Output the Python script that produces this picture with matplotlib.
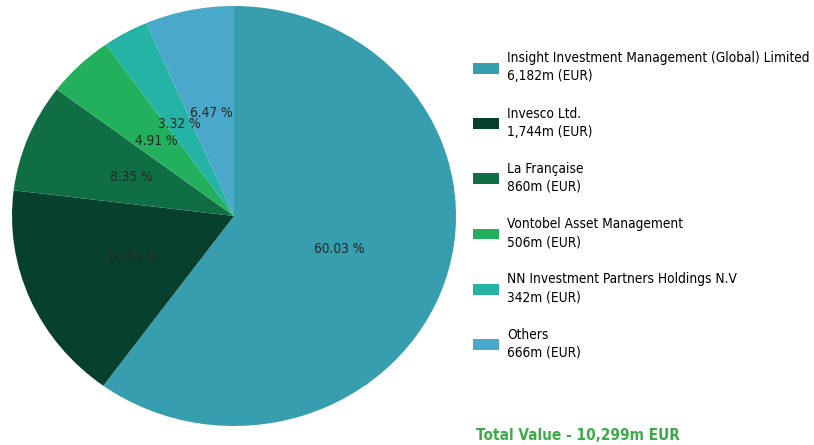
import matplotlib
matplotlib.use("Agg")
import matplotlib.pyplot as plt
from matplotlib.patches import Patch

# data
managers = ["Insight Investment Management (Global) Limited", "Invesco Ltd.",
            "La Française", "Vontobel Asset Management",
            "NN Investment Partners Holdings N.V", "Others"]
values_m = [6182, 1744, 860, 506, 342, 666]
shares = [60.03, 16.93, 8.35, 4.91, 3.32, 6.47]
colors = ["#369eae", "#07412e", "#106e45", "#23b05c", "#25b3a5", "#4aa9cb"]
total_m = 10299

plt.rcParams["font.family"] = ["DejaVu Sans"]
plt.rcParams["font.stretch"] = "condensed"

fig = plt.figure(figsize=(8.14, 4.45), dpi=100)
W, H = 814, 445
# the reference pie is slightly squashed (wider than tall)
cx, cy, rx, ry = 234, 216, 222, 210
ax = fig.add_axes([(cx - rx) / W, (H - cy - ry) / H, 2 * rx / W, 2 * ry / H])
share_iter = iter(shares)
ax.pie(values_m, colors=colors, startangle=90, counterclock=False,
       autopct=lambda p: f"{next(share_iter):.2f} %", pctdistance=0.5,
       textprops={"fontsize": 9.8, "color": "#1e2a24", "fontstretch": "condensed"})
ax.set_xlim(-1, 1)
ax.set_ylim(-1, 1)
ax.set_aspect("auto")

handles = [Patch(facecolor=c, edgecolor="none") for c in colors]
labels = [f"{n}\n{v:,}m (EUR)" for n, v in zip(managers, values_m)]
leg = fig.legend(handles, labels, loc="upper left", bbox_to_anchor=(468 / W, 1 - 46 / H),
                 frameon=False, labelspacing=1.72, handlelength=1.9,
                 handleheight=0.85, handletextpad=0.6, borderaxespad=0,
                 prop={"size": 9.8, "stretch": "condensed"})
for t in leg.get_texts():
    t.set_linespacing(1.35)

fig.text(476 / W, 1 - 435 / H, f"Total Value - {total_m:,}m EUR", color="#3daa4a",
         fontsize=11, fontweight="bold", fontstretch="condensed", va="center", ha="left")

fig.savefig("out.png", dpi=100)
